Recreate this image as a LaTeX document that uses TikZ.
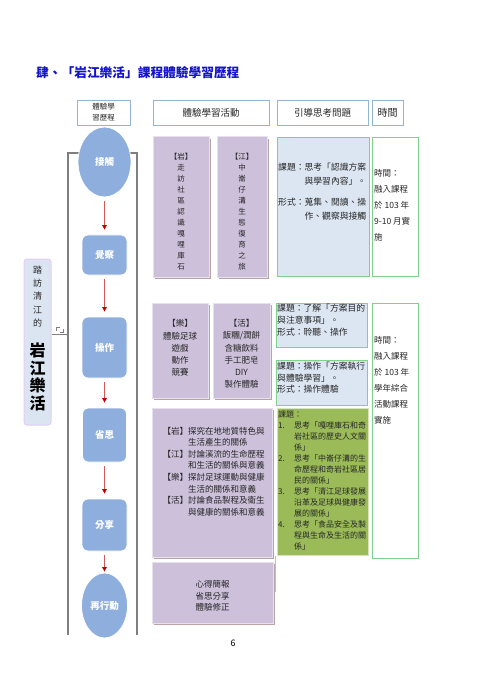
\documentclass[tikz,border=0pt]{standalone}
\usepackage{fontspec}
\setmainfont{Noto Sans CJK TC}
\setsansfont{Noto Sans CJK TC}
\usetikzlibrary{arrows.meta,shapes.geometric,shadows}
\definecolor{hdrc}{HTML}{95B3D7}
\definecolor{flowc}{HTML}{8EAFDD}
\definecolor{purc}{HTML}{CCC0DA}
\definecolor{purb}{HTML}{E6E1EC}
\definecolor{shc}{HTML}{B9A3A3}
\definecolor{bluc}{HTML}{DCE6F2}
\definecolor{grnb}{HTML}{80D090}
\definecolor{olivec}{HTML}{9BBB59}
\definecolor{oliveb}{HTML}{D7E4BD}
\definecolor{txtc}{HTML}{262626}
\definecolor{arrc}{HTML}{D05A5A}
\definecolor{tipc}{HTML}{C00000}
\definecolor{framec}{HTML}{7F7F7F}
\definecolor{tagfill}{HTML}{DBE5F1}
\definecolor{tagb}{HTML}{E6CCF5}
\definecolor{titlec}{RGB}{20,20,200}
\newcommand{\fsz}[2]{\fontsize{#1}{#2}\selectfont}
\tikzset{
 hdr/.style={draw=hdrc, line width=0.9pt, fill=white, inner sep=0pt, text=txtc},
 flowe/.style={ellipse, fill=flowc, draw=white, line width=0.8pt, inner sep=0pt, text=white, font=\bfseries\fsz{9.5}{11}},
 flowr/.style={rectangle, rounded corners=6pt, fill=flowc, draw=white, line width=0.8pt, inner sep=0pt, text=white, font=\bfseries\fsz{9.5}{11}},
 purp/.style={fill=purc, draw=purb, line width=1pt, inner sep=0pt, drop shadow={shadow xshift=1.6pt, shadow yshift=-1.6pt, opacity=1, fill=shc}},
 bluebox/.style={fill=bluc, draw=grnb, line width=0.9pt, inner sep=0pt},
 timebox/.style={fill=white, draw=grnb, line width=0.9pt, inner sep=0pt},
 greenbox/.style={fill=olivec, draw=oliveb, line width=1pt, inner sep=0pt, drop shadow={shadow xshift=1.2pt, shadow yshift=-1.2pt, opacity=1, fill=black!20}},
 txt/.style={inner sep=0pt, text=txtc},
 flowarr/.style={draw=arrc, line width=1.2pt, -{Triangle[length=4.5pt,width=4.5pt,color=tipc]}, shorten <=4pt, shorten >=5pt},
 frameline/.style={draw=framec, line width=1.1pt},
}
\begin{document}
\begin{tikzpicture}[x=1pt,y=-1pt]
\useasboundingbox (0,0) rectangle (494,700);
\fill[white] (0,0) rectangle (494,700);

% title
\node[inner sep=0pt, anchor=west, text=titlec, font=\bfseries\fsz{12.7}{14}] (title) at (36,73) {肆、「岩江樂活」課程體驗學習歷程};

% headers
\node[hdr, minimum width=53, minimum height=25, align=center, font=\fsz{7.5}{11}] (h1) at (103.5,112.5) {體驗學\\習歷程};
\node[hdr, minimum width=116, minimum height=25, font=\fsz{9.5}{11}] (h2) at (211,112.5) {體驗學習活動};
\node[hdr, minimum width=91, minimum height=25, font=\fsz{9.5}{11}] (h3) at (322.5,112.5) {引導思考問題};
\node[hdr, minimum width=31, minimum height=25, font=\fsz{10}{11}] (h4) at (387.5,112.5) {時間};

% frame
\draw[frameline] (80,153) -- (68,153) -- (68,635);
\draw[frameline] (130,153) -- (137,153) -- (137,635);

% tag
\node[fill=tagfill, draw=tagb, line width=1pt, rounded corners=3pt, minimum width=27, minimum height=166, inner sep=0pt] (tag) at (37.5,342) {};
\node[txt, align=center, font=\fsz{9}{13.2}] (tagt1) at (37.5,296.5) {踏\\訪\\清\\江\\的};
\node[inner sep=0pt, text=black, align=center, font=\bfseries\fsz{16}{17.7}] (tagt2) at (37.5,377) {岩\\江\\樂\\活};
\coordinate (fl) at (68,334);
\draw[draw=framec, line width=0.8pt] (tag.east |- fl) -- (fl);
\draw[draw=framec, line width=0.5pt] (56,331) -- (56,327) -- (59.5,327);
\draw[draw=framec, line width=0.5pt] (60,332.5) -- (63.5,332.5) -- (63.5,329);

% flow nodes
\node[flowe, minimum width=53, minimum height=70] (n1) at (104.5,162) {接觸};
\node[flowr, minimum width=45, minimum height=40] (n2) at (104.5,255) {覺察};
\node[flowr, minimum width=45, minimum height=61] (n3) at (104.5,347.5) {操作};
\node[flowr, minimum width=44, minimum height=54] (n4) at (104.5,435) {省思};
\node[flowr, minimum width=45, minimum height=52] (n5) at (104.5,525) {分享};
\node[flowe, minimum width=46, minimum height=65] (n6) at (104.5,605.5) {再行動};
\draw[flowarr] (n1) -- (n2);
\draw[flowarr] (n2) -- (n3);
\draw[flowarr] (n3) -- (n4);
\draw[flowarr] (n4) -- (n5);
\draw[flowarr, shorten >=1pt] (n5) -- (n6);

% purple activity boxes
\node[purp, minimum width=56, minimum height=140] (p1) at (181,207) {};
\node[purp, minimum width=50, minimum height=140] (p2) at (242,207) {};
\node[txt, align=center, font=\fsz{7.5}{11}] (p1t) at (181,212) {【岩】\\走\\訪\\社\\區\\認\\識\\嘎\\哩\\庫\\石};
\node[txt, align=center, font=\fsz{7.5}{11}] (p2t) at (242,212) {【江】\\中\\崙\\仔\\溝\\生\\態\\復\\育\\之\\旅};

\node[purp, minimum width=56, minimum height=95] (p3) at (180,350.5) {};
\node[purp, minimum width=57, minimum height=95] (p4) at (241.5,350.5) {};
\node[txt, align=center, font=\fsz{8.5}{12.2}] (p3t) at (180,348) {【樂】\\體驗足球\\遊戲\\動作\\競賽};
\node[txt, align=center, font=\fsz{8.5}{12.2}] (p4t) at (241.5,354) {【活】\\飯糰/潤餅\\含糖飲料\\手工肥皂\\DIY\\製作體驗};

\node[purp, minimum width=120, minimum height=149] (p5) at (212,482.5) {};
\node[txt, align=left, font=\fsz{8.5}{11.6}] (p5t) at (213.5,471.5) {【岩】探究在地地質特色與\\\phantom{【岩】}生活產生的關係\\【江】討論溪流的生命歷程\\\phantom{【江】}和生活的關係與意義\\【樂】探討足球運動與健康\\\phantom{【樂】}生活的關係和意義\\【活】討論食品製程及衛生\\\phantom{【活】}與健康的關係和意義};

\node[purp, minimum width=121, minimum height=61] (p6) at (212.5,592.5) {};
\node[txt, align=center, font=\fsz{8.5}{11.5}] (p6t) at (212.5,596) {心得簡報\\省思分享\\體驗修正};

% guiding question boxes
\node[bluebox, minimum width=92, minimum height=139] (bA) at (323,206.5) {};
\node[txt, anchor=west, align=left, font=\fsz{8.8}{13.5}] (bAt) at (278,191.5) {課題：思考「認識方案\\\phantom{課題：}與學習內容」。\\[8pt]形式：蒐集、閱讀、操\\\phantom{形式：}作、觀察與接觸};

\node[bluebox, minimum width=91, minimum height=44] (bB) at (321.5,325) {};
\node[txt, anchor=west, align=left, font=\fsz{8.8}{12}] (bBt) at (277,320) {課題：了解「方案目的\\與注意事項」。\\形式：聆聽、操作};

\node[bluebox, minimum width=91, minimum height=45] (bC) at (321.5,382.5) {};
\node[txt, anchor=west, align=left, font=\fsz{8.8}{11.5}] (bCt) at (277,378) {課題：操作「方案執行\\與體驗學習」。\\形式：操作體驗};

\node[greenbox, minimum width=91, minimum height=147] (gD) at (322.5,481.5) {};
\node[txt, anchor=west, align=left, font=\fsz{8}{11}] (gDt) at (278,480) {課題：\\
\makebox[2em][l]{1.}思考「嘎哩庫石和奇\\\hspace*{2em}岩社區的歷史人文關\\\hspace*{2em}係」\\
\makebox[2em][l]{2.}思考「中崙仔溝的生\\\hspace*{2em}命歷程和奇岩社區居\\\hspace*{2em}民的關係」\\
\makebox[2em][l]{3.}思考「清江足球發展\\\hspace*{2em}沿革及足球與健康發\\\hspace*{2em}展的關係」\\
\makebox[2em][l]{4.}思考「食品安全及製\\\hspace*{2em}程與生命及生活的關\\\hspace*{2em}係」};
\coordinate (gl) at (275,592);
\draw[draw=black!25, line width=0.8pt] (gD.south west -| gl) -- (gl);

% time boxes
\node[timebox, minimum width=46, minimum height=139] (t1) at (395,206.5) {};
\node[txt, anchor=west, align=left, font=\fsz{8.5}{16}] (t1t) at (374,205) {時間：\\融入課程\\於 103 年\\9-10 月實\\施};
\node[timebox, minimum width=46, minimum height=255] (t2) at (395,430.5) {};
\node[txt, anchor=west, align=left, font=\fsz{8.5}{16}] (t2t) at (374,380.5) {時間：\\融入課程\\於 103 年\\學年綜合\\活動課程\\實施};

% page number
\node[inner sep=0pt, text=black, font=\fsz{9}{10}] (pg) at (233,643) {6};
\end{tikzpicture}
\end{document}
